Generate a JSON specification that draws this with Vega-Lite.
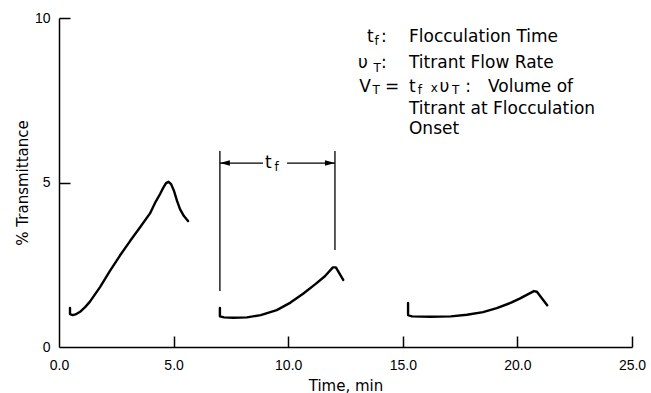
{
  "$schema": "https://vega.github.io/schema/vega-lite/v6.json",
  "width": 573,
  "height": 329,
  "autosize": {"type": "none"},
  "padding": {"left": 59, "top": 18, "right": 19, "bottom": 46},
  "background": "white",
  "config": {
    "view": {"stroke": null},
    "axis": {
      "grid": false,
      "domainColor": "black",
      "domainWidth": 1.5,
      "tickColor": "black",
      "tickWidth": 1.5,
      "tickSize": 11,
      "labelColor": "black",
      "labelFont": "Liberation Sans",
      "labelFontSize": 14,
      "titleFont": "DejaVu Sans",
      "titleFontSize": 15,
      "titleFontWeight": "normal",
      "titleColor": "black"
    }
  },
  "datasets": {
    "curves": [
      {"run": 1, "i": 1, "x": 0.48, "y": 1.19},
      {"run": 1, "i": 2, "x": 0.48, "y": 1.0},
      {"run": 1, "i": 3, "x": 0.6, "y": 0.97},
      {"run": 1, "i": 4, "x": 0.72, "y": 0.99},
      {"run": 1, "i": 5, "x": 0.92, "y": 1.07},
      {"run": 1, "i": 6, "x": 1.15, "y": 1.22},
      {"run": 1, "i": 7, "x": 1.35, "y": 1.38},
      {"run": 1, "i": 8, "x": 1.79, "y": 1.82},
      {"run": 1, "i": 9, "x": 2.23, "y": 2.32},
      {"run": 1, "i": 10, "x": 2.66, "y": 2.78},
      {"run": 1, "i": 11, "x": 3.1, "y": 3.22},
      {"run": 1, "i": 12, "x": 3.53, "y": 3.63},
      {"run": 1, "i": 13, "x": 3.97, "y": 4.06},
      {"run": 1, "i": 14, "x": 4.19, "y": 4.38},
      {"run": 1, "i": 15, "x": 4.41, "y": 4.65},
      {"run": 1, "i": 16, "x": 4.54, "y": 4.83},
      {"run": 1, "i": 17, "x": 4.67, "y": 4.98},
      {"run": 1, "i": 18, "x": 4.78, "y": 5.02},
      {"run": 1, "i": 19, "x": 4.89, "y": 4.95},
      {"run": 1, "i": 20, "x": 5.02, "y": 4.74},
      {"run": 1, "i": 21, "x": 5.15, "y": 4.44},
      {"run": 1, "i": 22, "x": 5.28, "y": 4.19},
      {"run": 1, "i": 23, "x": 5.45, "y": 3.98},
      {"run": 1, "i": 24, "x": 5.63, "y": 3.83},
      {"run": 2, "i": 1, "x": 7.02, "y": 1.19},
      {"run": 2, "i": 2, "x": 7.02, "y": 0.93},
      {"run": 2, "i": 3, "x": 7.2, "y": 0.9},
      {"run": 2, "i": 4, "x": 7.6, "y": 0.89},
      {"run": 2, "i": 5, "x": 8.2, "y": 0.9},
      {"run": 2, "i": 6, "x": 8.8, "y": 0.97},
      {"run": 2, "i": 7, "x": 9.5, "y": 1.12},
      {"run": 2, "i": 8, "x": 10.1, "y": 1.35},
      {"run": 2, "i": 9, "x": 10.65, "y": 1.62},
      {"run": 2, "i": 10, "x": 11.2, "y": 1.92},
      {"run": 2, "i": 11, "x": 11.6, "y": 2.15},
      {"run": 2, "i": 12, "x": 11.95, "y": 2.42},
      {"run": 2, "i": 13, "x": 12.08, "y": 2.42},
      {"run": 2, "i": 14, "x": 12.4, "y": 2.04},
      {"run": 3, "i": 1, "x": 15.23, "y": 1.34},
      {"run": 3, "i": 2, "x": 15.23, "y": 0.97},
      {"run": 3, "i": 3, "x": 15.4, "y": 0.93},
      {"run": 3, "i": 4, "x": 16.2, "y": 0.92},
      {"run": 3, "i": 5, "x": 17.1, "y": 0.93},
      {"run": 3, "i": 6, "x": 17.8, "y": 0.98},
      {"run": 3, "i": 7, "x": 18.5, "y": 1.06},
      {"run": 3, "i": 8, "x": 19.1, "y": 1.18},
      {"run": 3, "i": 9, "x": 19.7, "y": 1.34},
      {"run": 3, "i": 10, "x": 20.1, "y": 1.47},
      {"run": 3, "i": 11, "x": 20.45, "y": 1.6},
      {"run": 3, "i": 12, "x": 20.72, "y": 1.7},
      {"run": 3, "i": 13, "x": 20.85, "y": 1.68},
      {"run": 3, "i": 14, "x": 21.3, "y": 1.27}
    ],
    "rules": [
      {"x": 7.02, "y": 5.96, "x2": 7.02, "y2": 1.7},
      {"x": 12.04, "y": 5.96, "x2": 12.04, "y2": 2.95},
      {"x": 7.02, "y": 5.59, "x2": 8.9, "y2": 5.59},
      {"x": 9.95, "y": 5.59, "x2": 12.04, "y2": 5.59}
    ],
    "heads": [
      {"x": 7.02, "y": 5.59, "dir": "left"},
      {"x": 12.04, "y": 5.59, "dir": "right"}
    ],
    "labels": [
      {"x": 8.99, "y": 5.44, "label": "t"},
      {"x": 13.44, "y": 9.27, "label": "t"},
      {"x": 14.05, "y": 9.27, "label": ":"},
      {"x": 15.27, "y": 9.27, "label": "Flocculation  Time"},
      {"x": 13.05, "y": 8.48, "label": "υ"},
      {"x": 14.05, "y": 8.48, "label": ":"},
      {"x": 15.27, "y": 8.48, "label": "Titrant  Flow  Rate"},
      {"x": 13.1, "y": 7.74, "label": "V"},
      {"x": 14.22, "y": 7.74, "label": "="},
      {"x": 15.27, "y": 7.74, "label": "t"},
      {"x": 16.6, "y": 7.74, "label": "υ"},
      {"x": 17.72, "y": 7.74, "label": ":"},
      {"x": 18.72, "y": 7.74, "label": "Volume  of"},
      {"x": 15.27, "y": 7.07, "label": "Titrant  at  Flocculation"},
      {"x": 15.27, "y": 6.47, "label": "Onset"}
    ],
    "subs": [
      {"x": 9.4, "y": 5.35, "label": "f"},
      {"x": 13.76, "y": 9.18, "label": "f"},
      {"x": 13.72, "y": 8.37, "label": "T"},
      {"x": 13.68, "y": 7.69, "label": "T"},
      {"x": 15.65, "y": 7.69, "label": "f"},
      {"x": 16.22, "y": 7.74, "label": "x"},
      {"x": 17.15, "y": 7.69, "label": "T"}
    ]
  },
  "layer": [
    {
      "encoding": {
        "x": {
          "field": "x",
          "type": "quantitative",
          "scale": {"domain": [0, 25], "nice": false, "zero": false},
          "axis": {
            "title": "Time,  min",
            "values": [0, 5, 10, 15, 20, 25],
            "format": ".1f",
            "ticks": false,
            "labelPadding": 11,
            "titlePadding": 6,
            "labelFlush": false
          }
        },
        "y": {
          "field": "y",
          "type": "quantitative",
          "scale": {"domain": [0, 10], "nice": false},
          "axis": {
            "title": "%  Transmittance",
            "values": [0, 5, 10],
            "format": "d",
            "ticks": false,
            "labelPadding": 9,
            "titlePadding": 4
          }
        }
      },
      "layer": [
        {
          "data": {"name": "curves"},
          "mark": {"type": "line", "color": "black", "strokeWidth": 2.4, "strokeJoin": "round", "strokeCap": "round"},
          "encoding": {
            "detail": {"field": "run", "type": "nominal"},
            "order": {"field": "i", "type": "quantitative"}
          }
        },
        {
          "data": {"name": "heads"},
          "mark": {"type": "point", "filled": true, "color": "black", "opacity": 1, "size": 100},
          "encoding": {
            "shape": {"field": "dir", "type": "nominal", "scale": {"domain": ["left", "right"], "range": ["M0,0L2,-0.55L2,0.55Z", "M0,0L-2,-0.55L-2,0.55Z"]}, "legend": null}
          }
        },
        {
          "data": {"name": "labels"},
          "mark": {"type": "text", "font": "DejaVu Sans", "fontSize": 17, "align": "left", "baseline": "alphabetic", "color": "black"},
          "encoding": {"text": {"field": "label"}}
        },
        {
          "data": {"name": "subs"},
          "mark": {"type": "text", "font": "DejaVu Sans", "fontSize": 12, "align": "left", "baseline": "alphabetic", "color": "black"},
          "encoding": {"text": {"field": "label"}}
        }
      ]
    },
    {
      "data": {"name": "rules"},
      "mark": {"type": "rule", "color": "black", "strokeWidth": 1.3},
      "encoding": {
        "x": {
          "field": "x",
          "type": "quantitative",
          "scale": {"domain": [0, 25], "nice": false, "zero": false},
          "axis": {"orient": "top", "offset": -329, "values": [5, 10, 15, 20, 25], "labels": false, "domain": false, "title": null, "ticks": true}
        },
        "y": {
          "field": "y",
          "type": "quantitative",
          "scale": {"domain": [0, 10], "nice": false},
          "axis": {"orient": "right", "offset": -573, "values": [5, 10], "labels": false, "domain": false, "title": null, "ticks": true}
        },
        "x2": {"field": "x2"},
        "y2": {"field": "y2"}
      }
    }
  ],
  "resolve": {"scale": {"x": "independent", "y": "independent"}, "axis": {"x": "independent", "y": "independent"}}
}
